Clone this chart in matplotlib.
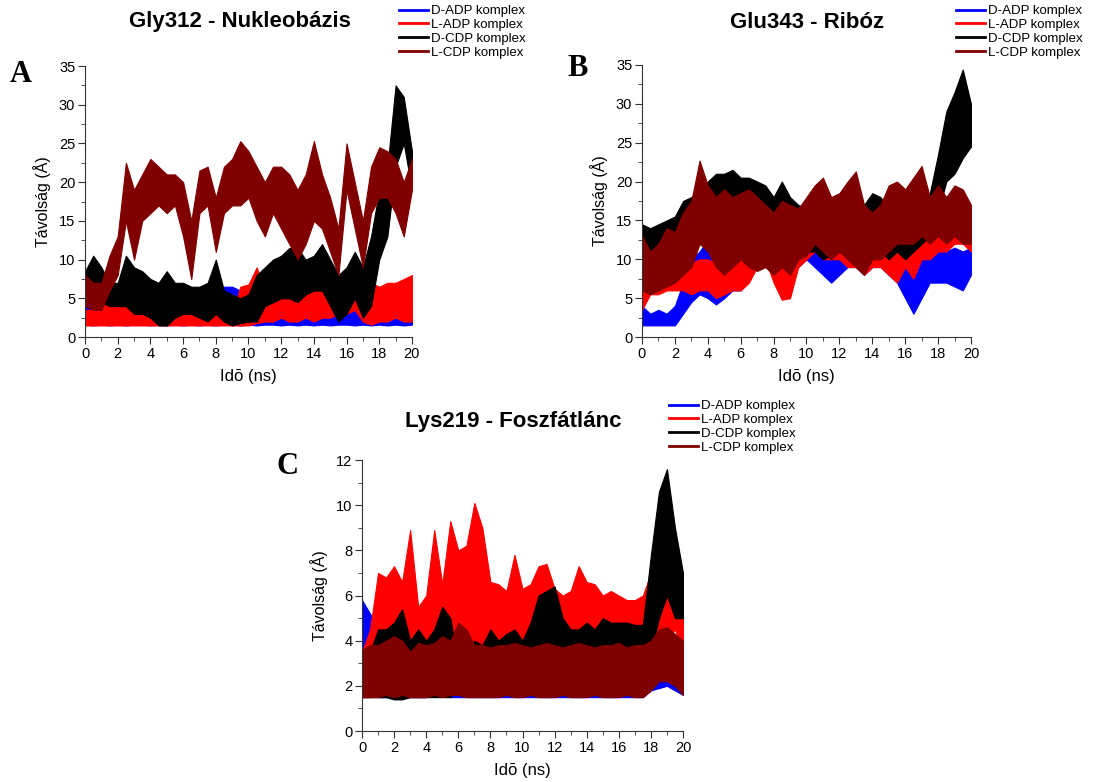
import numpy as np
import matplotlib.pyplot as plt
from matplotlib.lines import Line2D

plt.rcParams['font.family'] = ['Liberation Sans', 'DejaVu Sans']

# idő tengely: 0..20 ns, 0.5 ns lépés; minden sorozat alsó / felső burkolója
ido = np.arange(41) * 0.5

sorozatok = ["D-ADP komplex", "L-ADP komplex", "D-CDP komplex", "L-CDP komplex"]
szinek = ["#0000ff", "#ff0000", "#000000", "#800000"]

# --- A: Gly312 - Nukleobázis ---
a_dadp_lo = [1.6, 1.5, 1.6, 1.5, 1.6, 1.5, 1.6, 1.6, 1.5, 1.6, 1.5, 1.6, 1.5, 1.6, 1.5, 1.6, 1.5, 1.6, 1.6, 1.5, 1.6,
             1.5, 1.6, 1.6, 1.5, 1.6, 1.5, 1.6, 1.5, 1.6, 1.5, 1.6, 1.6, 1.5, 1.6, 1.5, 1.6, 1.5, 1.6, 1.5, 1.6]
a_dadp_hi = [4.5, 4, 3.5, 3.5, 3.5, 3.5, 3.5, 3.5, 3.5, 4, 4, 4, 4, 4, 4.5, 5, 5.5, 6.5, 6.5, 6, 4,
             3.5, 4, 4, 4, 4, 3.5, 4, 3.5, 4, 3.5, 4, 3.5, 3.5, 3, 3.5, 3.5, 3, 3, 3.5, 4.5]
a_ladp_lo = [1.5, 1.5, 1.5, 1.5, 1.5, 1.5, 1.5, 1.5, 1.5, 1.5, 1.5, 1.5, 1.5, 1.5, 1.5, 1.5, 1.5, 1.5, 1.5, 1.5, 1.5,
             1.8, 2, 2, 2.5, 2, 2, 2.5, 2, 2.5, 2.5, 3, 3, 3.5, 2, 1.6, 2, 2, 2.5, 2, 2]
a_ladp_hi = [3.5, 3.5, 4, 4.5, 4, 4, 4, 4, 4, 3.5, 3, 3, 3.5, 3.5, 3.5, 3.5, 4, 3.5, 3, 6.5, 6.8,
             9, 6, 5.5, 6, 6.5, 6.5, 6.5, 6.5, 7, 6, 6.5, 6.5, 7, 5, 7, 6.5, 7, 7, 7.5, 8]
a_dcdp_lo = [5, 5, 4.5, 4, 4, 4, 3, 3, 2.5, 1.5, 1.5, 2.5, 3, 3, 2.5, 2, 3, 2, 1.5, 1.8, 2,
             2, 4, 4.5, 5, 5, 4.5, 5.5, 6, 6, 4, 2, 3, 5, 2.5, 4, 10, 13, 22, 25, 19]
a_dcdp_hi = [8.5, 10.5, 9, 7, 7, 10.5, 9, 8.5, 7.5, 7, 8.5, 7, 7, 6.5, 6.5, 7, 10, 6, 5.5, 5, 5.5,
             8, 9, 10, 10.5, 11.5, 11.5, 10, 10.5, 12, 10, 8, 9, 11, 9, 13, 19, 22, 32.5, 31, 24]
a_lcdp_lo = [4, 3.5, 3.5, 6, 8, 15, 10, 15, 16, 17, 16, 17, 13, 7.5, 16, 17, 11, 16, 17, 17, 18,
             15, 13, 16, 14, 12, 10, 12, 15, 14, 11, 8, 19, 14, 9, 16, 18, 18, 16, 13, 19]
a_lcdp_hi = [8, 7, 7, 10.5, 13, 22.5, 19, 21, 23, 22, 21, 21, 20, 15, 21.5, 22, 18, 22, 23, 25.3, 24,
             22, 20, 22, 22, 21, 19, 21, 25.3, 21, 18, 14, 25, 20, 15, 22, 24.5, 24, 23, 20, 23]

# --- B: Glu343 - Ribóz ---
b_dadp_lo = [1.5, 1.5, 1.5, 1.5, 1.5, 3, 4.5, 5.5, 5, 4.2, 5, 6, 6, 8, 9, 10, 9, 8, 8, 9, 10,
             9, 8, 7, 8, 9, 9, 8, 9, 9, 8, 7, 5, 3, 5, 7, 7, 7, 6.5, 6, 8]
b_dadp_hi = [4, 3, 3.5, 3, 4, 7, 10, 11, 12.5, 9, 12, 10, 11, 13.5, 14, 15, 12, 13, 12, 12, 13.5,
             13, 12, 11, 12, 12, 12.5, 11.5, 12, 11.5, 11, 10, 10, 9, 10, 12, 11.5, 11, 11.5, 11, 11.5]
b_ladp_lo = [3.5, 5.5, 5.5, 6, 6, 6, 5.5, 6, 6, 5, 5.5, 6, 6, 7, 9, 10, 7, 4.8, 5, 9, 10,
             11, 10, 10, 10, 9, 9, 8, 9, 9, 8, 7, 9, 7.5, 10, 10, 11, 11, 12, 12, 11]
b_ladp_hi = [7, 8, 8.5, 8.5, 10, 9.5, 9.5, 10, 10, 9.5, 10, 9.5, 10, 13, 13.5, 14, 12, 10, 9.5, 12, 14,
             14.5, 15.5, 14, 13.5, 13.5, 13, 12, 13, 12.5, 12.5, 12, 12, 11.5, 13, 14, 14.5, 15, 16, 15.5, 16]
b_dcdp_lo = [10, 11, 10.5, 11, 11.5, 12, 13, 14, 14, 15, 15, 15.5, 15, 14.5, 14, 13, 12, 12, 11.5, 11, 11,
             11, 10, 10.5, 11, 11, 10, 11, 12, 11, 10, 11, 10, 11, 12, 13, 16, 20, 21, 23, 24.5]
b_dcdp_hi = [14.5, 14, 14.5, 15, 15.5, 17.5, 18, 19, 20, 21, 21, 21.5, 20.5, 20.5, 20, 19.5, 18, 20, 18, 17, 16.5,
             17, 17, 16.5, 17, 16.5, 16, 17, 18.5, 18, 16.5, 17, 17, 16, 17, 18.5, 23.5, 29, 31.5, 34.4, 30]
b_lcdp_lo = [6, 5.5, 6, 6.5, 7, 8, 9, 12, 11, 9, 8, 9, 10, 9, 8.5, 9, 8, 9, 8, 10, 10.5,
             12, 11, 10, 11, 10, 9, 8, 10, 10, 11, 12, 12, 12, 13, 12, 13, 12, 13, 12, 12]
b_lcdp_hi = [13, 11, 12, 14, 13.5, 16, 17.5, 22.7, 19.5, 18, 19, 18, 18.5, 19, 18, 17, 16, 17.5, 17, 16.5, 18,
             19.5, 20.5, 18, 18.5, 20, 21.3, 17, 16, 17, 19.5, 20, 19, 20.5, 22, 18, 19.5, 18, 19.5, 19, 17]

# --- C: Lys219 - Foszfátlánc ---
c_dadp_lo = [1.5, 1.6, 1.5, 1.5, 1.5, 1.5, 1.5, 1.5, 1.5, 1.6, 1.6, 1.5, 1.5, 1.5, 1.5, 1.5, 1.5, 1.5, 1.5, 1.5, 1.5,
             1.5, 1.5, 1.5, 1.5, 1.5, 1.5, 1.5, 1.5, 1.5, 1.5, 1.5, 1.5, 1.5, 1.5, 1.5, 1.8, 1.9, 2, 1.8, 1.6]
c_dadp_hi = [5.8, 5.2, 4.5, 4.2, 4, 4, 5.5, 4, 4.5, 5, 4.5, 5, 4.8, 5.2, 4.9, 4, 3.6, 3.5, 3.5, 3.5, 3.5,
             3.5, 3.5, 3.5, 3.5, 3.5, 3.5, 3.5, 3.5, 3.5, 3.5, 3.5, 3.5, 3.5, 3.5, 4.2, 3.5, 3.8, 3.2, 3, 3]
c_ladp_lo = [1.5, 1.5, 2, 2, 2, 2.5, 2.5, 2, 2.5, 3, 3, 3.5, 3, 3.5, 4, 3.5, 3, 3, 3, 3, 3,
             3, 3, 3, 3.5, 3, 3, 3.5, 3, 3, 3.5, 3, 3.5, 3.5, 4, 4, 4.5, 4, 4, 4.5, 3.5]
c_ladp_hi = [3.5, 4.5, 7, 6.8, 7.3, 6.6, 8.9, 5.5, 6, 8.9, 6.5, 9.3, 8, 8.2, 10.1, 9, 6.6, 6.5, 6.2, 7.8, 6.3,
             6.5, 7.3, 7.4, 6.3, 6, 6.2, 7.3, 6.6, 6.5, 6, 6.2, 6, 5.8, 5.8, 6, 7, 6.5, 6.3, 7.5, 7]
c_dcdp_lo = [1.5, 1.5, 1.5, 1.5, 1.4, 1.4, 1.5, 1.5, 1.5, 1.5, 1.5, 1.5, 2, 1.6, 1.5, 1.6, 2, 2, 2.5, 2, 2.5,
             2.5, 3, 2.5, 2.5, 2.5, 2.5, 2.5, 3, 3, 3, 3, 3, 3, 3, 3, 3.5, 5, 6, 5, 5]
c_dcdp_hi = [3, 3.5, 4.5, 4.5, 4.8, 5.4, 4, 4.5, 4, 4.5, 5.5, 5, 3, 3.5, 4, 3.8, 4.5, 4, 4.3, 4.5, 4,
             4.8, 6, 6.2, 6.4, 5, 4.5, 4.5, 4.8, 4.5, 5, 4.8, 4.8, 4.8, 4.7, 4.7, 7.8, 10.6, 11.6, 9, 7]
c_lcdp_lo = [1.5, 1.5, 1.5, 1.6, 1.5, 1.6, 1.5, 1.5, 1.5, 1.6, 1.5, 1.6, 1.6, 1.5, 1.5, 1.5, 1.5, 1.5, 1.6, 1.5, 1.5,
             1.6, 1.5, 1.5, 1.5, 1.6, 1.5, 1.5, 1.5, 1.6, 1.5, 1.5, 1.5, 1.6, 1.5, 1.5, 1.8, 2.2, 2.2, 2, 1.6]
c_lcdp_hi = [3.6, 3.8, 3.8, 4, 4.2, 4, 3.5, 3.9, 3.8, 3.9, 4.2, 4, 4.8, 4.5, 3.8, 3.8, 3.7, 3.8, 3.8, 3.9, 3.8,
             3.7, 3.8, 3.9, 3.8, 3.7, 3.8, 3.9, 3.8, 3.7, 3.8, 3.8, 3.9, 3.7, 3.8, 3.8, 4, 4.5, 4.6, 4.3, 4]


def rajzol(ax, adatok, ymax, ylep, yminor):
    # a zajos pályák sávként: alsó és felső burkoló között kitöltve
    for (lo, hi), szin in zip(adatok, szinek):
        ax.fill_between(ido, lo, hi, color=szin, lw=0.8, edgecolor=szin)
    ax.set_xlim(0, 20)
    ax.set_ylim(0, ymax)
    ax.set_xticks(np.arange(0, 21, 2))
    ax.set_xticks(np.arange(1, 20, 2), minor=True)
    ax.set_yticks(np.arange(0, ymax + 0.1, ylep))
    ax.set_yticks(np.arange(yminor, ymax, ylep), minor=True)
    for s in ['top', 'right']:
        ax.spines[s].set_visible(False)
    for s in ['left', 'bottom']:
        ax.spines[s].set_color('#333333')
    ax.tick_params(which='major', direction='out', length=5, labelsize=10.5, pad=2, color='#333333')
    ax.tick_params(which='minor', direction='out', length=3, color='#333333')
    ax.set_xlabel("Idō (ns)", fontsize=12, labelpad=6)
    ax.set_ylabel("Távolság (Å)", fontsize=11.5, labelpad=6)


def jelmagyarazat(fig, x, y):
    kezelok = [Line2D([], [], color=c, lw=2) for c in szinek]
    fig.legend(kezelok, sorozatok, loc='upper left', bbox_to_anchor=(x, y), frameon=False,
               fontsize=9.5, handlelength=2.2, handletextpad=0.2, labelspacing=0.12,
               borderaxespad=0, borderpad=0)


fig = plt.figure(figsize=(10.97, 7.82), dpi=100)

ax_a = fig.add_axes([0.0775, 0.569, 0.298, 0.3466])
rajzol(ax_a, [(a_dadp_lo, a_dadp_hi), (a_ladp_lo, a_ladp_hi), (a_dcdp_lo, a_dcdp_hi), (a_lcdp_lo, a_lcdp_hi)],
       35, 5, 2.5)
ax_b = fig.add_axes([0.5852, 0.569, 0.2999, 0.348])
rajzol(ax_b, [(b_dadp_lo, b_dadp_hi), (b_ladp_lo, b_ladp_hi), (b_dcdp_lo, b_dcdp_hi), (b_lcdp_lo, b_lcdp_hi)],
       35, 5, 2.5)
ax_c = fig.add_axes([0.33, 0.0652, 0.2926, 0.3465])
rajzol(ax_c, [(c_dadp_lo, c_dadp_hi), (c_ladp_lo, c_ladp_hi), (c_dcdp_lo, c_dcdp_hi), (c_lcdp_lo, c_lcdp_hi)],
       12, 2, 1)

fig.text(240 / 1097, 1 - 22 / 782, "Gly312 - Nukleobázis", fontsize=16, fontweight='bold', ha='center', va='center')
fig.text(807 / 1097, 1 - 22 / 782, "Glu343 - Ribóz", fontsize=16, fontweight='bold', ha='center', va='center')
fig.text(513 / 1097, 1 - 422 / 782, "Lys219 - Foszfátlánc", fontsize=16, fontweight='bold', ha='center', va='center')

for betu, bx, by in [("A", 21, 75), ("B", 578, 69), ("C", 288, 466)]:
    fig.text(bx / 1097, 1 - by / 782, betu, fontsize=22, fontweight='bold', family='Liberation Serif',
             ha='center', va='center')

jelmagyarazat(fig, 399 / 1097, 1 - 5 / 782)
jelmagyarazat(fig, 956 / 1097, 1 - 5 / 782)
jelmagyarazat(fig, 669 / 1097, 1 - 400 / 782)

fig.savefig("out.png", dpi=100)
